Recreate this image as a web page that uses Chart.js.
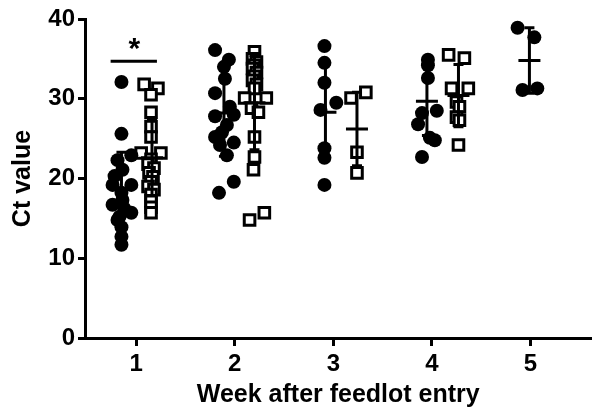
<!DOCTYPE html>
<html lang="en">
<head>
    <meta charset="UTF-8">
    <title>Ct value by week</title>
    <script src="https://cdn.jsdelivr.net/npm/chart.js"></script>
    <style>
        body { margin: 0; background: white; }
        #wrap { width: 602px; height: 411px; }
    </style>
</head>
<body>
    <div id="wrap"><canvas id="ctChart" width="602" height="411"></canvas></div>
    <script>
        // week ticks on x axis
        const weekTicks = [1, 2, 3, 4, 5];
        const yTicks = [0, 10, 20, 30, 40];

        // filled circles: [x (week + spread), Ct]
        const circlePoints = [
            [0.85, 32.1], [0.85, 25.6], [0.95, 22.9], [0.81, 22.3], [0.86, 21.1], [0.78, 20.3],
            [0.76, 19.2], [0.95, 19.2], [0.85, 18.2], [0.86, 17.3], [0.76, 16.7], [0.88, 16.2],
            [0.95, 15.7], [0.83, 15.2], [0.81, 14.8], [0.85, 13.9], [0.85, 12.7], [0.85, 11.7],
            [1.80, 36.1], [1.94, 34.9], [1.89, 34.0], [1.90, 32.5], [1.80, 30.7], [1.95, 29.0],
            [1.99, 28.0], [1.80, 27.8], [1.92, 26.7], [1.87, 25.8], [1.80, 25.2], [1.99, 24.5],
            [1.85, 24.2], [1.92, 22.9], [1.99, 19.6], [1.84, 18.2],
            [2.91, 36.6], [2.91, 34.5], [2.91, 32.0], [3.03, 29.5], [2.87, 28.6], [2.91, 23.8],
            [2.91, 22.6], [2.91, 19.2],
            [3.96, 34.9], [3.96, 34.2], [3.96, 32.6], [4.05, 28.5], [3.90, 28.2], [3.86, 26.8],
            [4.03, 24.8], [3.98, 25.1], [3.90, 22.7],
            [4.87, 38.9], [5.04, 37.7], [4.92, 31.1], [5.07, 31.3]
        ];

        // open squares: [x (week + spread), Ct]
        const squarePoints = [
            [1.08, 31.8], [1.22, 31.3], [1.15, 30.5], [1.15, 28.3], [1.15, 26.5], [1.15, 25.2],
            [1.05, 23.2], [1.25, 23.2], [1.15, 22.4], [1.12, 21.8], [1.18, 21.3], [1.13, 20.7],
            [1.17, 20.2], [1.15, 19.6], [1.12, 19.0], [1.18, 18.6], [1.15, 18.0], [1.15, 17.2],
            [1.15, 16.4], [1.15, 15.7],
            [2.20, 35.9], [2.18, 35.0], [2.22, 34.6], [2.20, 34.2], [2.18, 33.8], [2.22, 33.3],
            [2.20, 32.8], [2.18, 32.3], [2.22, 31.8], [2.20, 31.3], [2.10, 30.1], [2.32, 30.1],
            [2.17, 28.8], [2.24, 28.3], [2.20, 25.2], [2.20, 22.7], [2.19, 21.1], [2.15, 14.8],
            [2.30, 15.7],
            [3.18, 30.1], [3.33, 30.8], [3.24, 23.3], [3.24, 20.7],
            [4.17, 35.5], [4.33, 35.1], [4.20, 31.3], [4.37, 31.3], [4.25, 29.6], [4.28, 29.0],
            [4.25, 27.7], [4.28, 27.3], [4.27, 24.2]
        ];

        // mean +/- SD bars
        const circleBarX = [0.85, 1.89, 2.92, 3.95, 4.99];
        const circleMean = [18.6, 28.2, 28.3, 29.7, 34.8];
        const circleSD = [4.7, 5.4, 6.0, 4.3, 4.1];
        const squareBarX = [1.16, 2.20, 3.24, 4.27];
        const squareMean = [22.6, 29.5, 26.2, 30.4];
        const squareSD = [4.8, 5.9, 4.6, 3.9];

        // significance marker over week 1
        const sigX = [0.74, 1.21];
        const sigY = 34.7;
        const starX = 0.98;
        const starY = 36.2;

        const errorBars = {
            id: 'errorBars',
            afterDatasetsDraw(chart) {
                const { ctx, scales: { x, y } } = chart;
                ctx.save();
                ctx.strokeStyle = '#000';
                ctx.lineWidth = 3;
                function bar(xv, m, sd) {
                    const px = x.getPixelForValue(xv);
                    const top = y.getPixelForValue(m + sd);
                    const mid = y.getPixelForValue(m);
                    const bot = y.getPixelForValue(m - sd);
                    ctx.beginPath();
                    ctx.moveTo(px, top); ctx.lineTo(px, bot);
                    ctx.moveTo(px - 5, top); ctx.lineTo(px + 5, top);
                    ctx.moveTo(px - 5, bot); ctx.lineTo(px + 5, bot);
                    ctx.moveTo(px - 11, mid); ctx.lineTo(px + 11, mid);
                    ctx.stroke();
                }
                circleBarX.forEach((xv, i) => bar(xv, circleMean[i], circleSD[i]));
                squareBarX.forEach((xv, i) => bar(xv, squareMean[i], squareSD[i]));

                // significance line + star
                const sy = y.getPixelForValue(sigY);
                ctx.beginPath();
                ctx.moveTo(x.getPixelForValue(sigX[0]), sy);
                ctx.lineTo(x.getPixelForValue(sigX[1]), sy);
                ctx.stroke();
                ctx.fillStyle = '#000';
                ctx.font = 'bold 30px "Liberation Sans", Arial, sans-serif';
                ctx.textAlign = 'center';
                ctx.textBaseline = 'middle';
                ctx.fillText('*', x.getPixelForValue(starX), y.getPixelForValue(starY));
                ctx.restore();
            }
        };

        const fontFamily = '"Liberation Sans", Arial, sans-serif';

        new Chart(document.getElementById('ctChart').getContext('2d'), {
            type: 'scatter',
            data: {
                datasets: [
                    {
                        label: 'circles',
                        data: circlePoints.map(p => ({ x: p[0], y: p[1] })),
                        pointStyle: 'circle',
                        pointRadius: 7,
                        backgroundColor: '#000',
                        borderColor: '#000',
                        borderWidth: 0,
                        clip: false
                    },
                    {
                        label: 'squares',
                        data: squarePoints.map(p => ({ x: p[0], y: p[1] })),
                        pointStyle: 'rect',
                        pointRadius: 7.5,
                        backgroundColor: '#fff',
                        borderColor: '#000',
                        borderWidth: 3,
                        clip: false
                    }
                ]
            },
            options: {
                responsive: false,
                animation: false,
                devicePixelRatio: 1,
                layout: { padding: { top: 19, right: 0, left: 0, bottom: 0 } },
                plugins: {
                    legend: { display: false },
                    tooltip: { enabled: false }
                },
                scales: {
                    x: {
                        type: 'linear',
                        min: 0.48,
                        max: 5.62,
                        afterBuildTicks: scale => { scale.ticks = weekTicks.map(v => ({ value: v })); },
                        afterFit: scale => { scale.height = 73; },
                        border: { color: '#000', width: 3 },
                        grid: { drawOnChartArea: false, drawTicks: true, tickLength: 8, tickWidth: 3, tickColor: '#000' },
                        ticks: {
                            color: '#000',
                            padding: 4,
                            font: { family: fontFamily, size: 24, weight: 'bold' },
                            callback: v => String(v)
                        },
                        title: {
                            display: true,
                            text: 'Week after feedlot entry',
                            color: '#000',
                            font: { family: fontFamily, size: 25, weight: 'bold', lineHeight: 1 },
                            padding: { top: 0, bottom: 3 }
                        }
                    },
                    y: {
                        min: 0,
                        max: 40,
                        afterBuildTicks: scale => { scale.ticks = yTicks.map(v => ({ value: v })); },
                        afterFit: scale => { scale.width = 85; },
                        border: { color: '#000', width: 3 },
                        grid: { drawOnChartArea: false, drawTicks: true, tickLength: 7, tickWidth: 3, tickColor: '#000' },
                        ticks: {
                            color: '#000',
                            padding: 3,
                            font: { family: fontFamily, size: 24, weight: 'bold' }
                        },
                        title: {
                            display: true,
                            text: 'Ct value',
                            color: '#000',
                            font: { family: fontFamily, size: 25, weight: 'bold', lineHeight: 1 },
                            padding: { top: 11, bottom: 0 }
                        }
                    }
                }
            },
            plugins: [errorBars]
        });
    </script>
</body>
</html>
